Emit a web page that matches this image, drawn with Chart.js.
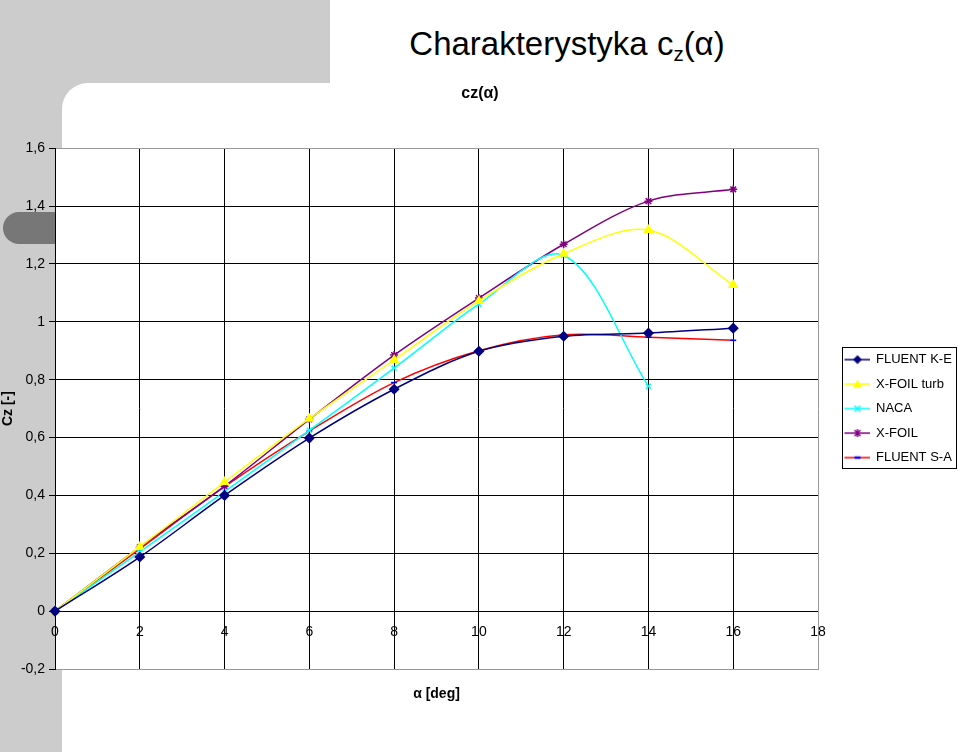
<!DOCTYPE html>
<html>
<head>
<meta charset="utf-8">
<title>Charakterystyka cz(α)</title>
<script src="https://cdn.jsdelivr.net/npm/chart.js@4/dist/chart.umd.min.js"></script>
<style>
body { margin:0; background:#fff; font-family: Arial, "Liberation Sans", sans-serif; }
#page { position:relative; width:960px; height:752px; overflow:hidden; }
#grayBox { position:absolute; left:0; top:0; width:330px; height:752px; background:#cccccc; }
#whiteBox { position:absolute; left:62px; top:83px; width:898px; height:669px; background:#fff; border-top-left-radius:26px; }
#pill { position:absolute; left:3px; top:212px; width:70px; height:32px; background:#777; border-radius:16px 0 0 16px; }
#heading { position:absolute; left:0; width:1134px; top:27px; text-align:center; font-size:33px; line-height:1; color:#000; white-space:nowrap; }
#heading sub { font-size:0.62em; vertical-align:-0.3em; }
#chart { position:absolute; left:0; top:0; }
</style>
</head>
<body>
<div id="page">
  <div id="grayBox"></div>
  <div id="whiteBox"></div>
  <div id="pill"></div>
  <div id="heading">Charakterystyka c<sub>z</sub>(α)</div>
  <canvas id="chart" width="960" height="752"></canvas>
</div>
<script>
// angle of attack [deg]
var ALPHA = [0, 2, 4, 6, 8, 10, 12, 14, 16];
var ALPHA_NACA = [0, 2, 4, 6, 8, 10, 12, 14];

// cz values
var FLUENT_KE  = [0, 0.187, 0.400, 0.598, 0.767, 0.898, 0.950, 0.961, 0.978];
var XFOIL_TURB = [0, 0.222, 0.446, 0.665, 0.868, 1.072, 1.235, 1.317, 1.127];
var NACA       = [0, 0.205, 0.413, 0.625, 0.840, 1.061, 1.230, 0.777];
var XFOIL      = [0, 0.221, 0.432, 0.663, 0.885, 1.082, 1.268, 1.417, 1.458];
var FLUENT_SA  = [0, 0.215, 0.430, 0.622, 0.790, 0.900, 0.955, 0.947, 0.936];

// axes
var X_MIN = 0, X_MAX = 18, X_STEP = 2;
var Y_MIN = -0.2, Y_MAX = 1.6, Y_STEP = 0.2;

Chart.defaults.font.family = 'Arial, "Liberation Sans", sans-serif';
Chart.defaults.color = '#000';

function toPoints(xs, ys) {
    var pts = [];
    for (var i = 0; i < ys.length; i++) {
        pts.push({x: xs[i], y: ys[i]});
    }
    return pts;
}

// polish decimal comma
function fmtTick(v) {
    var r = Math.round(v * 10) / 10;
    return String(r).replace('.', ',');
}

function near(a, b) { return Math.abs(a - b) < 1e-6; }

// ==========================================================
//         legend icons: line + marker
// ==========================================================
var iconCache = {};

function drawMarker(c, style, cx, cy, color) {
    c.fillStyle = color;
    c.strokeStyle = color;
    c.beginPath();
    if (style === 'rectRot') {
        c.moveTo(cx, cy - 4.5); c.lineTo(cx + 4.5, cy); c.lineTo(cx, cy + 4.5); c.lineTo(cx - 4.5, cy);
        c.closePath(); c.fill();
    } else if (style === 'triangle') {
        c.moveTo(cx, cy - 4.5); c.lineTo(cx + 4.5, cy + 3.5); c.lineTo(cx - 4.5, cy + 3.5);
        c.closePath(); c.fill();
    } else if (style === 'crossRot') {
        c.lineWidth = 1.5;
        c.moveTo(cx - 3, cy - 3); c.lineTo(cx + 3, cy + 3);
        c.moveTo(cx + 3, cy - 3); c.lineTo(cx - 3, cy + 3);
        c.stroke();
    } else if (style === 'star') {
        c.lineWidth = 1.5;
        c.moveTo(cx - 3, cy - 3); c.lineTo(cx + 3, cy + 3);
        c.moveTo(cx + 3, cy - 3); c.lineTo(cx - 3, cy + 3);
        c.moveTo(cx, cy - 4); c.lineTo(cx, cy + 4);
        c.stroke();
    } else if (style === 'line') {
        c.lineWidth = 2.5;
        c.moveTo(cx - 3, cy); c.lineTo(cx + 3, cy);
        c.stroke();
    }
}

function legendIcon(ds) {
    if (iconCache[ds.label]) return iconCache[ds.label];
    var cv = document.createElement('canvas');
    cv.width = 40;
    cv.height = 12;
    var c = cv.getContext('2d');
    c.strokeStyle = ds.borderColor;
    c.lineWidth = 1.5;
    c.beginPath();
    c.moveTo(15, 6);
    c.lineTo(40, 6);
    c.stroke();
    drawMarker(c, ds.pointStyle, 28, 6, ds.pointBorderColor);
    iconCache[ds.label] = cv;
    return cv;
}

function makeLegendItems(chart) {
    return chart.data.datasets.map(function(ds, i) {
        return {
            text: ds.label,
            pointStyle: legendIcon(ds),
            fillStyle: 'transparent',
            strokeStyle: 'transparent',
            lineWidth: 0,
            hidden: false,
            datasetIndex: i,
            fontColor: '#000'
        };
    });
}

// white plot area over the grey page decoration
var plotBg = {
    id: 'plotBg',
    beforeDraw: function(chart) {
        var a = chart.chartArea;
        var c = chart.ctx;
        c.save();
        c.fillStyle = '#fff';
        c.fillRect(a.left, a.top, a.right - a.left, a.bottom - a.top);
        c.restore();
    }
};

// black frame round the legend entries
var legendFrame = {
    id: 'legendFrame',
    afterDraw: function(chart) {
        var lg = chart.legend;
        if (!lg || !lg.legendHitBoxes || !lg.legendHitBoxes.length) return;
        var hb = lg.legendHitBoxes;
        var first = hb[0], last = hb[hb.length - 1];
        var c = chart.ctx;
        c.save();
        c.strokeStyle = '#000';
        c.lineWidth = 1;
        var x0 = Math.round(lg.left + 24) + 0.5;
        var x1 = Math.round(lg.right - 3) - 0.5;
        var y0 = Math.round(first.top - 6) + 0.5;
        var y1 = Math.round(last.top + last.height + 4) + 0.5;
        c.strokeRect(x0, y0, x1 - x0, y1 - y0);
        c.restore();
    }
};

function series(label, xs, ys, color, style, markerColor, radius) {
    return {
        label: label,
        data: toPoints(xs, ys),
        borderColor: color,
        backgroundColor: color,
        borderWidth: 1.5,
        pointStyle: style,
        pointRadius: radius,
        pointBorderColor: markerColor,
        pointBackgroundColor: markerColor,
        pointBorderWidth: 1.5,
        tension: 0.33,
        clip: false
    };
}

var ctx = document.getElementById('chart').getContext('2d');
var chart = new Chart(ctx, {
    type: 'line',
    data: {
        datasets: [
            series('FLUENT K-E', ALPHA, FLUENT_KE, '#000080', 'rectRot', '#000080', 4.5),
            series('X-FOIL turb', ALPHA, XFOIL_TURB, '#FFFF00', 'triangle', '#FFFF00', 4.5),
            series('NACA', ALPHA_NACA, NACA, '#00FFFF', 'crossRot', '#00FFFF', 3.5),
            series('X-FOIL', ALPHA, XFOIL, '#800080', 'star', '#800080', 4),
            series('FLUENT S-A', ALPHA, FLUENT_SA, '#FF0000', 'line', '#0000FF', 3)
        ]
    },
    options: {
        responsive: false,
        animation: false,
        layout: { padding: { left: 0, right: 0, top: 0, bottom: 0 } },
        scales: {
            x: {
                type: 'linear',
                position: 'bottom',
                min: X_MIN, max: X_MAX,
                ticks: { stepSize: X_STEP, display: false },
                grid: {
                    drawTicks: false,
                    color: function(c) { return c.tick && c.tick.value === X_MAX ? '#999' : '#000'; }
                },
                border: { color: '#999' },
                title: {
                    display: true, text: 'α [deg]', color: '#000',
                    font: { size: 14, weight: 'bold' },
                    padding: { top: 0, bottom: 49 }
                },
                afterFit: function(s) { s.height = 83; }
            },
            // tick labels sit on the cz = 0 line
            x2: {
                type: 'linear',
                axis: 'x',
                position: { y: 0 },
                min: X_MIN, max: X_MAX,
                ticks: { stepSize: X_STEP, padding: 13, color: '#000', font: { size: 14 } },
                grid: { display: false, drawTicks: false },
                border: { display: false }
            },
            y: {
                min: Y_MIN, max: Y_MAX,
                ticks: { stepSize: Y_STEP, padding: 4, color: '#000', font: { size: 14 }, callback: fmtTick },
                grid: {
                    tickLength: 6,
                    tickColor: '#000',
                    color: function(c) {
                        if (!c.tick) return '#000';
                        return (near(c.tick.value, Y_MAX) || near(c.tick.value, Y_MIN)) ? '#999' : '#000';
                    }
                },
                border: { color: '#000' },
                title: {
                    display: true, text: 'Cz [-]', color: '#000',
                    font: { size: 14, weight: 'bold' },
                    padding: { top: 0, bottom: 0 }
                },
                afterFit: function(s) { s.width = 55; }
            }
        },
        plugins: {
            title: {
                display: true,
                text: 'cz(α)',
                color: '#000',
                font: { size: 16, weight: 'bold' },
                padding: { top: 84, bottom: 45 }
            },
            legend: {
                position: 'right',
                fullSize: false,
                align: 'center',
                maxWidth: 142,
                labels: {
                    usePointStyle: true,
                    pointStyleWidth: 40,
                    padding: 11.5,
                    color: '#000',
                    font: { size: 13 },
                    generateLabels: makeLegendItems
                }
            },
            tooltip: { enabled: false }
        }
    },
    plugins: [plotBg, legendFrame]
});
</script>
</body>
</html>
